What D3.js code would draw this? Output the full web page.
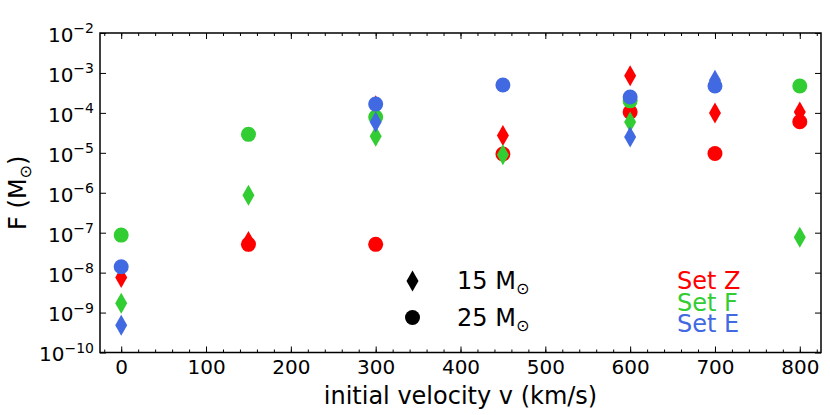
<!DOCTYPE html>
<html>
<head>
<meta charset="utf-8">
<script src="https://cdn.jsdelivr.net/npm/d3@7"></script>
<style>
  body { margin: 0; background: #fff; }
  svg { font-family: "DejaVu Sans", sans-serif; }
</style>
</head>
<body>
<div id="chart"></div>
<script>
// velocities (km/s) and the F values per set, 15 Msun = diamonds, 25 Msun = circles
var velocities = [0, 150, 300, 450, 600, 700, 800];
var setZ15 = [7.5e-9, 6e-8, 1.5e-4, 2.7e-5, 8.5e-4, 1.0e-4, 1.05e-4];
var setZ25 = [null, 5.1e-8, 5.1e-8, 9.3e-6, 1.05e-4, 9.6e-6, 6.0e-5];
var setF15 = [1.7e-9, 8.7e-7, 2.6e-5, 9.0e-6, 5.9e-5, null, 7.7e-8];
var setF25 = [8.7e-8, 2.9e-5, 7.9e-5, null, 2.0e-4, null, 4.7e-4];
var setE15 = [4.8e-10, null, 5.9e-5, null, 2.5e-5, 6.6e-4, null];
var setE25 = [1.4e-8, null, 1.66e-4, 5.0e-4, 2.5e-4, 4.7e-4, null];

var setNames = ["Set Z", "Set F", "Set E"];
var setColors = ["#ff0000", "#32cd32", "#4169e1"];
var massLabels = ["15 M", "25 M"];
var yExponents = [-2, -3, -4, -5, -6, -7, -8, -9, -10];

var width = 830, height = 415;
var margin = {top: 33, right: 9, bottom: 63, left: 100};

var svg = d3.select("#chart").append("svg")
    .attr("width", width)
    .attr("height", height);

var x = d3.scaleLinear().domain([-25, 825]).range([margin.left, width - margin.right]);
var y = d3.scaleLog().domain([1e-10, 1e-2]).range([height - margin.bottom + 0.5, margin.top]);

// diamond is tall & thin like matplotlib 'd'
var diamond = "M0,-10.5L6,0L0,10.5L-6,0Z";

// minor ticks (every 20) bottom and top
svg.append("g")
    .attr("transform", "translate(0," + y.range()[0] + ")")
    .call(d3.axisBottom(x).tickValues(d3.range(-20, 821, 20)).tickSize(-3).tickFormat(""))
    .call(function(g) { g.select(".domain").remove(); });
svg.append("g")
    .attr("transform", "translate(0," + y.range()[1] + ")")
    .call(d3.axisTop(x).tickValues(d3.range(-20, 821, 20)).tickSize(-3).tickFormat(""))
    .call(function(g) { g.select(".domain").remove(); });

// major x ticks
var xAxis = svg.append("g")
    .attr("transform", "translate(0," + y.range()[0] + ")")
    .call(d3.axisBottom(x).tickValues(d3.range(0, 801, 100)).tickSize(-6).tickPadding(7).tickFormat(d3.format("d")));
xAxis.select(".domain").remove();
xAxis.selectAll("text").attr("font-size", 20).attr("font-family", "DejaVu Sans").attr("fill", "#000");

svg.append("g")
    .attr("transform", "translate(0," + y.range()[1] + ")")
    .call(d3.axisTop(x).tickValues(d3.range(0, 801, 100)).tickSize(-6).tickFormat(""))
    .call(function(g) { g.select(".domain").remove(); });

// y ticks with 10^n labels
var yVals = yExponents.map(function(e) { return Math.pow(10, e); });
var yAxis = svg.append("g")
    .attr("transform", "translate(" + x.range()[0] + ",0)")
    .call(d3.axisLeft(y).tickValues(yVals).tickSize(-6).tickPadding(6).tickFormat(""));
yAxis.select(".domain").remove();
yAxis.selectAll(".tick text")
    .attr("font-size", 20).attr("font-family", "DejaVu Sans").attr("fill", "#000")
    .attr("dy", "0.42em")
    .each(function(d) {
      var t = d3.select(this);
      t.append("tspan").text("10");
      t.append("tspan").attr("font-size", 14).attr("dy", -8.5)
        .text("\u2212" + Math.round(-Math.log10(d)));
    });

svg.append("g")
    .attr("transform", "translate(" + x.range()[1] + ",0)")
    .call(d3.axisRight(y).tickValues(yVals).tickSize(-6).tickFormat(""))
    .call(function(g) { g.select(".domain").remove(); });

// frame
svg.append("rect")
    .attr("x", x.range()[0]).attr("y", y.range()[1])
    .attr("width", x.range()[1] - x.range()[0])
    .attr("height", y.range()[0] - y.range()[1])
    .attr("fill", "none").attr("stroke", "#000").attr("stroke-width", 1.5);

// points, drawn set by set: diamonds then circles
var sets = [[setZ15, setZ25], [setF15, setF25], [setE15, setE25]];
var plot = svg.append("g");
sets.forEach(function(s, i) {
  var dia = velocities.map(function(v, j) { return {v: v, f: s[0][j]}; }).filter(function(d) { return d.f != null; });
  var cir = velocities.map(function(v, j) { return {v: v, f: s[1][j]}; }).filter(function(d) { return d.f != null; });
  plot.append("g").selectAll("path").data(dia).enter().append("path")
      .attr("d", diamond)
      .attr("transform", function(d) { return "translate(" + x(d.v) + "," + y(d.f) + ")"; })
      .attr("fill", setColors[i]);
  plot.append("g").selectAll("circle").data(cir).enter().append("circle")
      .attr("cx", function(d) { return x(d.v); })
      .attr("cy", function(d) { return y(d.f); })
      .attr("r", 7.5)
      .attr("fill", setColors[i]);
});

// mass legend
var legend = svg.append("g");
massLabels.forEach(function(lab, i) {
  var cy = 281 + i * 36.5;
  if (i === 0) {
    legend.append("path").attr("d", diamond).attr("transform", "translate(412.5," + cy + ")").attr("fill", "#000");
  } else {
    legend.append("circle").attr("cx", 412.5).attr("cy", cy).attr("r", 7.5).attr("fill", "#000");
  }
  var t = legend.append("text").attr("x", 457).attr("y", cy + 8).attr("font-size", 24).attr("fill", "#000");
  t.append("tspan").text(lab);
  t.append("tspan").attr("font-size", 16).attr("dy", 5).text("\u2299");
});

// set labels
setNames.forEach(function(n, i) {
  svg.append("text")
      .attr("x", 677).attr("y", 289 + i * 21.5)
      .attr("font-size", 24).attr("fill", setColors[i])
      .text(n);
});

// axis labels
svg.append("text")
    .attr("x", (x.range()[0] + x.range()[1]) / 2).attr("y", 404)
    .attr("text-anchor", "middle").attr("font-size", 24).attr("fill", "#000")
    .text("initial velocity v (km/s)");

var yl = svg.append("text")
    .attr("transform", "translate(26," + ((y.range()[0] + y.range()[1]) / 2) + ")rotate(-90)")
    .attr("text-anchor", "middle").attr("font-size", 24).attr("fill", "#000");
yl.append("tspan").text("F (M");
yl.append("tspan").attr("font-size", 16).attr("dy", 5).text("\u2299");
yl.append("tspan").attr("dy", -5).text(")");
</script>
</body>
</html>
